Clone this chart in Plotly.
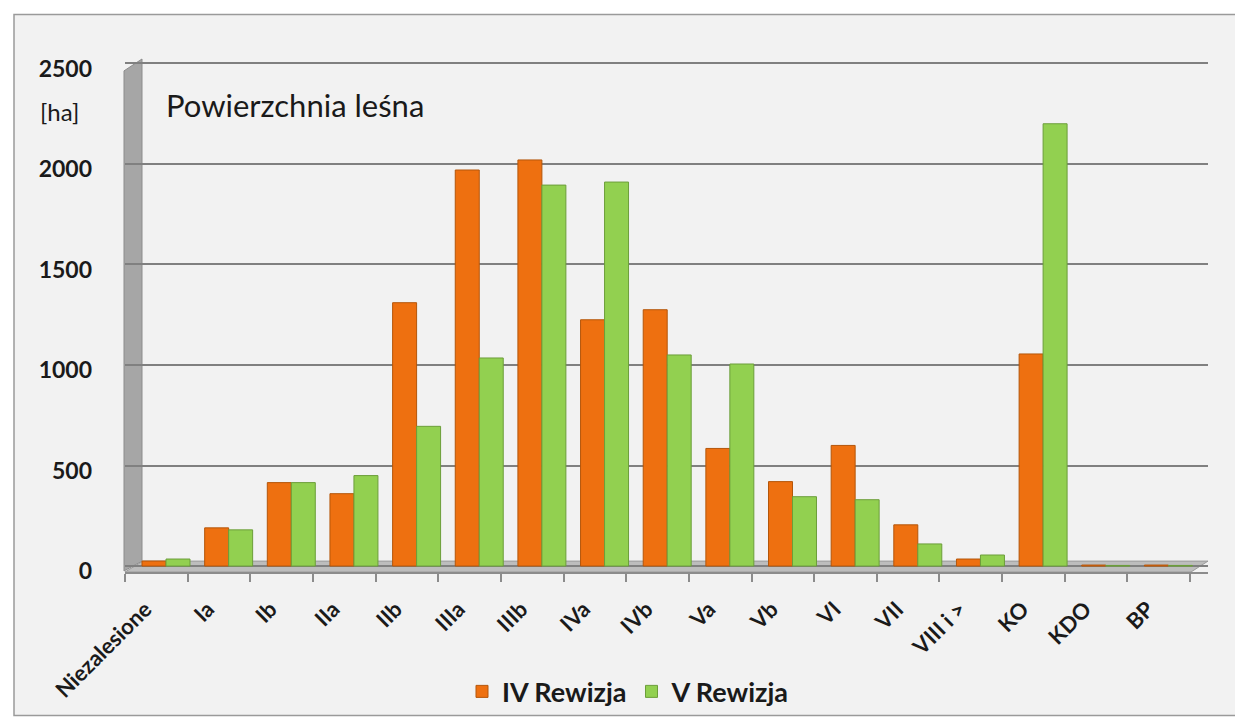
import plotly.graph_objects as go

categories = ["Niezalesione", "Ia", "Ib", "IIa", "IIb", "IIIa", "IIIb", "IVa", "IVb",
              "Va", "Vb", "VI", "VII", "VIII i >", "KO", "KDO", "BP"]
iv_rewizja = [25, 190, 415, 360, 1310, 1970, 2020, 1225, 1275, 585, 420, 600, 205, 35, 1055, 5, 5]
v_rewizja = [35, 180, 415, 450, 695, 1035, 1895, 1910, 1050, 1005, 345, 330, 110, 55, 2200, 3, 3]
y_ticks = [0, 500, 1000, 1500, 2000, 2500]

W, H = 1243, 720
L, R, T, B = 117, 1200, 50, 569  # plot area in pixels


def px(x, y):
    return (x - L) / (R - L), (B - y) / (B - T)


def path(points):
    s = ""
    for i, (x, y) in enumerate(points):
        a, b = px(x, y)
        s += ("M" if i == 0 else "L") + f"{a:.5f},{b:.5f} "
    return s + "Z"


FONT = "Lato"
xs = list(range(len(categories)))
cat_w = 62.65
x0 = 158.0
xr = [(L - x0) / cat_w, (R - x0) / cat_w]
k = 101.5 / 500
yr = [-(B - 563) / k, (563 - T) / k]

fig = go.Figure()
fig.add_trace(go.Bar(x=xs, y=iv_rewizja, name="IV Rewizja",
                     marker=dict(color="#EE7010", line=dict(color="#B4560A", width=1))))
fig.add_trace(go.Bar(x=xs, y=v_rewizja, name="V Rewizja",
                     marker=dict(color="#92D050", line=dict(color="#6C9E3A", width=1))))

shapes = [
    # chart area border
    dict(type="rect", xref="paper", yref="paper",
         x0=px(6, 6)[0], y0=px(6, 714)[1], x1=px(1237, 6)[0], y1=px(6, 6)[1],
         fillcolor="#F2F2F2", line=dict(color="#9A9A9A", width=1.5), layer="below"),
    # left wall
    dict(type="path", xref="paper", yref="paper",
         path=path([(116, 568), (134, 558), (134, 51), (116, 63)]),
         fillcolor="#A6A6A6", line=dict(color="#8C8C8C", width=1), layer="between"),
    # floor
    dict(type="path", xref="paper", yref="paper",
         path=path([(117, 569), (1183, 569), (1200, 558), (135, 558)]),
         fillcolor="#BDBDBD", line=dict(color="#9A9A9A", width=1), layer="between"),
]

annotations = [
    dict(text="Powierzchnia leśna", xref="paper", yref="paper",
         x=px(156, 0)[0], y=px(0, 97)[1], xanchor="left", yanchor="middle",
         showarrow=False, font=dict(family=FONT, size=31, color="#1A1A1A")),
    dict(text="[ha]", xref="paper", yref="paper",
         x=px(30, 0)[0], y=px(0, 104)[1], xanchor="left", yanchor="middle",
         showarrow=False, font=dict(family=FONT, size=24, color="#1A1A1A")),
]

fig.update_layout(
    width=W, height=H, autosize=False,
    margin=dict(l=L, r=W - R, t=T, b=H - B, pad=0),
    paper_bgcolor="white", plot_bgcolor="rgba(0,0,0,0)",
    barmode="group", bargap=0.234, bargroupgap=0,
    font=dict(family=FONT, color="#1A1A1A"),
    shapes=shapes, annotations=annotations,
    legend=dict(orientation="h", x=px(620, 0)[0], y=px(0, 690)[1],
                xanchor="center", yanchor="middle",
                font=dict(family=FONT, size=27, color="#1A1A1A", weight="bold"),
                bgcolor="rgba(0,0,0,0)", itemwidth=30, traceorder="normal"),
    xaxis=dict(range=xr, tickmode="array",
               tickvals=[i - 0.33 for i in xs], ticktext=categories,
               tickangle=-45, ticks="", ticklabelstandoff=14,
               tickfont=dict(family=FONT, size=22, color="#1A1A1A", weight="bold"),
               showgrid=False, zeroline=False,
               showline=True, linecolor="#8C8C8C", linewidth=1.5,
               minor=dict(tickmode="array",
                          tickvals=[j + xr[0] for j in range(len(categories) + 1)],
                          ticks="outside", ticklen=8, tickcolor="#8C8C8C", tickwidth=1.5,
                          showgrid=False)),
    yaxis=dict(range=yr, tickmode="array", tickvals=y_ticks,
               ticks="", ticklabelstandoff=32, ticklabelshift=5,
               tickfont=dict(family=FONT, size=23, color="#1A1A1A", weight="bold"),
               showgrid=True, gridcolor="#808080", gridwidth=2,
               zeroline=False, showline=False),
)

fig.write_html("out.html")
